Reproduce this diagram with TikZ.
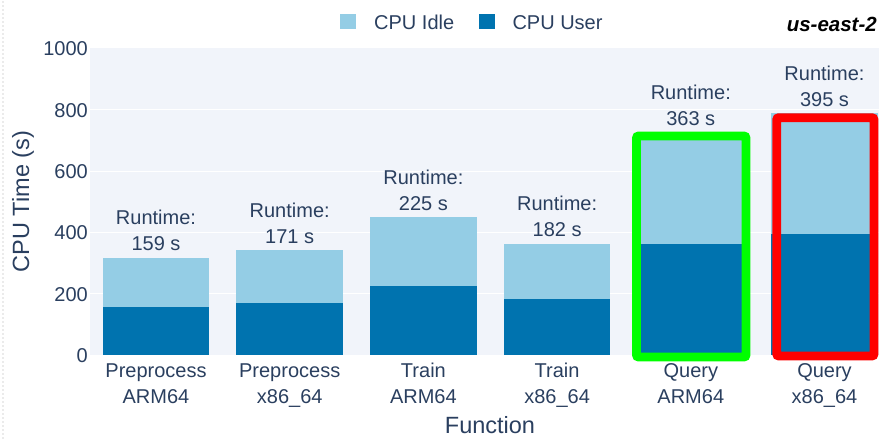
\documentclass[tikz,border=0pt]{standalone}
\usepackage{fontspec}
\setmainfont{Liberation Sans}
\definecolor{txt}{RGB}{42,63,95}
\definecolor{plotbg}{RGB}{241,244,250}
\definecolor{idle}{RGB}{148,205,229}
\definecolor{user}{RGB}{0,115,175}
\tikzset{lbl/.style={text=txt, font=\fontsize{20}{24}\selectfont, inner sep=0pt},
  axtitle/.style={text=txt, font=\fontsize{23.5}{28}\selectfont, inner sep=0pt},
  frame/.style={line width=8.7pt, rounded corners=2pt}}
\begin{document}
\begin{tikzpicture}[x=1pt, y=1pt]
    \useasboundingbox (0,0) rectangle (879,439);
    \fill[plotbg] (90,84) rectangle (879,391);
    \draw[black!8, dotted, line width=2pt] (3,0)--(3,439);
\begin{scope}[yshift=83.7pt, y=0.3067pt]
    \foreach \v in {200,400,...,800} \draw[white, line width=1pt] (90,\v)--(879,\v);
    \foreach \v in {0,200,...,1000}
        \node[lbl, anchor=base east, yshift=-7.15pt] (tick\v) at (88,\v) {\v};
    \foreach \cx/\r/\fa/\fb [count=\i] in {156/159/Preprocess/ARM64, 289.7/171/Preprocess/x86\_64,
        423.4/225/Train/ARM64, 557.1/182/Train/x86\_64, 690.8/363/Query/ARM64, 824.5/395/Query/x86\_64}{
        \fill[idle] (\cx-53.25,0) rectangle (\cx+53.25,2*\r);
        \fill[user] (\cx-53.25,0) rectangle (\cx+53.25,\r);
        \node[lbl, anchor=base, yshift=32.8pt] (rt\i) at (\cx,2*\r) {Runtime:};
        \node[lbl, anchor=base, yshift=6.8pt] (val\i) at (\cx,2*\r) {\r\ s};
        \node[lbl, anchor=base, yshift=-22.7pt] (fn\i) at (\cx,0) {\fa};
        \node[lbl, anchor=base, yshift=-48.7pt] (ar\i) at (\cx,0) {\fb};
    }
\end{scope}
    % highlight boxes
    \draw[frame, green] (636.5,82) rectangle (746,303);
    \draw[frame, red] (776.7,83) rectangle (874,321.3);
    % legend
    \fill[idle] (340,409.7) rectangle (356,425);
    \node[lbl, anchor=base west] (lgidle) at (374,409.7) {CPU Idle};
    \fill[user] (479,409.7) rectangle (494.5,425);
    \node[lbl, anchor=base west] (lguser) at (512.3,409.7) {CPU User};
    \node[anchor=base east, inner sep=0pt, font=\fontsize{20.5}{24}\selectfont\bfseries\itshape] (region) at (877,407.3) {us-east-2};
    % axis titles
    \node[axtitle, anchor=base] (xtitle) at (490,5.5) {Function};
    \node[axtitle, anchor=base, rotate=90] (ytitle) at (29,237.4) {CPU Time (s)};
\end{tikzpicture}
\end{document}
